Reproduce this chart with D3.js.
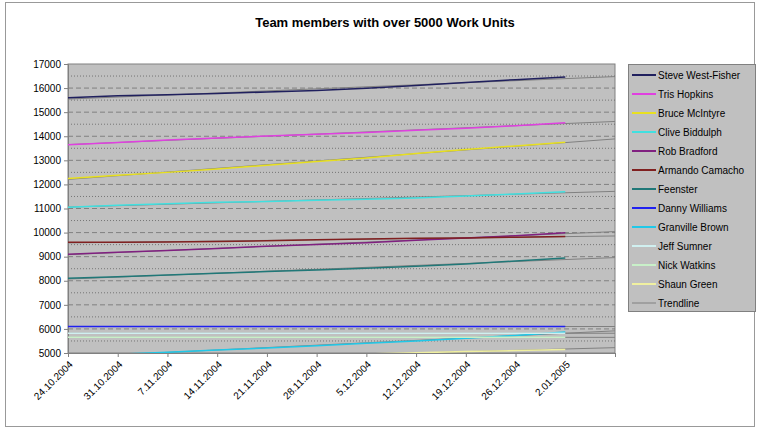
<!DOCTYPE html>
<html><head><meta charset="utf-8">
<script src="https://cdn.jsdelivr.net/npm/d3@7"></script>
<style>body{margin:0;background:#fff;font-family:"Liberation Sans",Arial,sans-serif}</style>
</head><body>
<svg id="chart" width="761" height="430"></svg>
<script>
// weekly readings, 24.10.2004 .. 2.01.2005
const weeks = ["24.10.2004","31.10.2004","7.11.2004","14.11.2004","21.11.2004","28.11.2004","5.12.2004","12.12.2004","19.12.2004","26.12.2004","2.01.2005"];
const names = ["Steve West-Fisher","Tris Hopkins","Bruce McIntyre","Clive Biddulph","Rob Bradford","Armando Camacho","Feenster","Danny Williams","Granville Brown","Jeff Sumner","Nick Watkins","Shaun Green"];
const colors = ["#20205e","#e040e0","#e8e020","#40e0e0","#802080","#802020","#207878","#2020f0","#20c8e8","#d0f0f0","#c8f0c8","#f0f0a0"];
const steve    = [15600,15680,15720,15770,15840,15900,15990,16110,16230,16350,16460];
const tris     = [13650,13740,13840,13930,14010,14080,14160,14250,14330,14440,14560];
const bruce    = [12250,12380,12500,12640,12800,12950,13100,13280,13450,13600,13750];
const clive    = [11050,11130,11200,11260,11290,11340,11380,11440,11520,11600,11700];
const rob      = [9100,9180,9260,9340,9430,9510,9580,9680,9770,9870,9990];
const armando  = [9600,9600,9610,9630,9660,9700,9730,9760,9780,9810,9840];
const feenster = [8100,8170,8240,8310,8380,8450,8520,8600,8700,8820,8940];
const danny    = [6100,6100,6100,6100,6100,6100,6100,6100,6100,6100,6100];
const granville= [4850,4950,5030,5120,5210,5300,5400,5500,5610,5730,5870];
const jeff     = [5820,5820,5820,5820,5820,5820,5820,5820,5820,5820,5820];
const nick     = [5650,5650,5650,5650,5650,5650,5650,5650,5650,5650,5650];
const shaun    = [4600,4660,4720,4780,4840,4900,4960,5010,5060,5100,5150];
const series = [steve,tris,bruce,clive,rob,armando,feenster,danny,granville,jeff,nick,shaun];

const parse = d3.timeParse("%d.%m.%Y");
const dates = weeks.map(parse);
const svg = d3.select("#chart");
const m = {l:68, r:615, t:64, b:353};

svg.append("rect").attr("x",5.5).attr("y",2.5).attr("width",749).attr("height",424)
  .attr("fill","#fff").attr("stroke","#999");
svg.append("text").attr("x",385).attr("y",27).attr("text-anchor","middle")
  .attr("font-size",13).attr("font-weight","bold").text("Team members with over 5000 Work Units");

const x = d3.scaleTime().domain([dates[0], d3.timeDay.offset(dates[10],7)]).range([m.l,m.r]);
const y = d3.scaleLinear().domain([5000,17000]).range([m.b,m.t]);

svg.append("rect").attr("x",m.l).attr("y",m.t).attr("width",m.r-m.l).attr("height",m.b-m.t)
  .attr("fill","#c0c0c0").attr("stroke","#808080");
svg.append("clipPath").attr("id","clip").append("rect")
  .attr("x",m.l).attr("y",m.t).attr("width",m.r-m.l).attr("height",m.b-m.t);

const g = svg.append("g");
d3.range(5500,17000,500).forEach(v=>{
  g.append("line").attr("x1",m.l).attr("x2",m.r).attr("y1",y(v)).attr("y2",y(v))
   .attr("stroke", v%1000 ? "#555" : "#666").attr("stroke-width",0.7)
   .attr("stroke-dasharray", v%1000 ? "1,2" : "5,3");
});

const yAx = svg.append("g").attr("transform",`translate(${m.l},0)`)
  .call(d3.axisLeft(y).tickValues(d3.range(5000,17001,1000)).tickSize(4).tickFormat(d3.format("d")));
const xAx = svg.append("g").attr("transform",`translate(0,${m.b})`)
  .call(d3.axisBottom(x).tickValues(dates.concat([d3.timeDay.offset(dates[10],7)])).tickSize(4).tickFormat((d,i)=>weeks[i]||""));
[yAx,xAx].forEach(a=>{a.select(".domain").attr("stroke","#808080");a.selectAll("line").attr("stroke","#808080");
  a.selectAll("text").attr("font-size",10).attr("font-family","Liberation Sans,Arial").attr("fill","#000");});
xAx.selectAll("text").attr("text-anchor","end").attr("dx",2).attr("dy",8)
  .attr("transform",function(){const t=d3.select(this);return "rotate(-45,0,"+10+")";});

const line = d3.line().x((d,i)=>x(dates[i])).y(d=>y(d));
const plot = svg.append("g").attr("clip-path","url(#clip)");
// trendlines: least squares fit, extended to axis end
series.forEach(s=>{
  const xs = dates.map(d=>+d), n=s.length;
  const mx=d3.mean(xs), my=d3.mean(s);
  const b=d3.sum(xs,(v,i)=>(v-mx)*(s[i]-my))/d3.sum(xs,v=>(v-mx)**2);
  const xe = +d3.timeDay.offset(dates[10],7);
  plot.append("line").attr("x1",x(dates[0])).attr("x2",x(xe))
    .attr("y1",y(my+b*(xs[0]-mx))).attr("y2",y(my+b*(xe-mx)))
    .attr("stroke","#808080").attr("stroke-width",1);
});
series.forEach((s,k)=>{
  plot.append("path").datum(s).attr("d",line).attr("fill","none")
    .attr("stroke",colors[k]).attr("stroke-width",1.5);
});

const lg = svg.append("g");
lg.append("rect").attr("x",628.5).attr("y",64.5).attr("width",127).attr("height",247)
  .attr("fill","#c0c0c0").attr("stroke","#808080");
names.concat(["Trendline"]).forEach((nm,i)=>{
  const yy = 75 + i*19;
  lg.append("line").attr("x1",632).attr("x2",656).attr("y1",yy).attr("y2",yy)
    .attr("stroke", i<12 ? colors[i] : "#808080").attr("stroke-width", i<12 ? 2 : 1);
  lg.append("text").attr("x",658).attr("y",yy+3.5).attr("font-size",10).text(nm);
});
</script>
</body></html>
